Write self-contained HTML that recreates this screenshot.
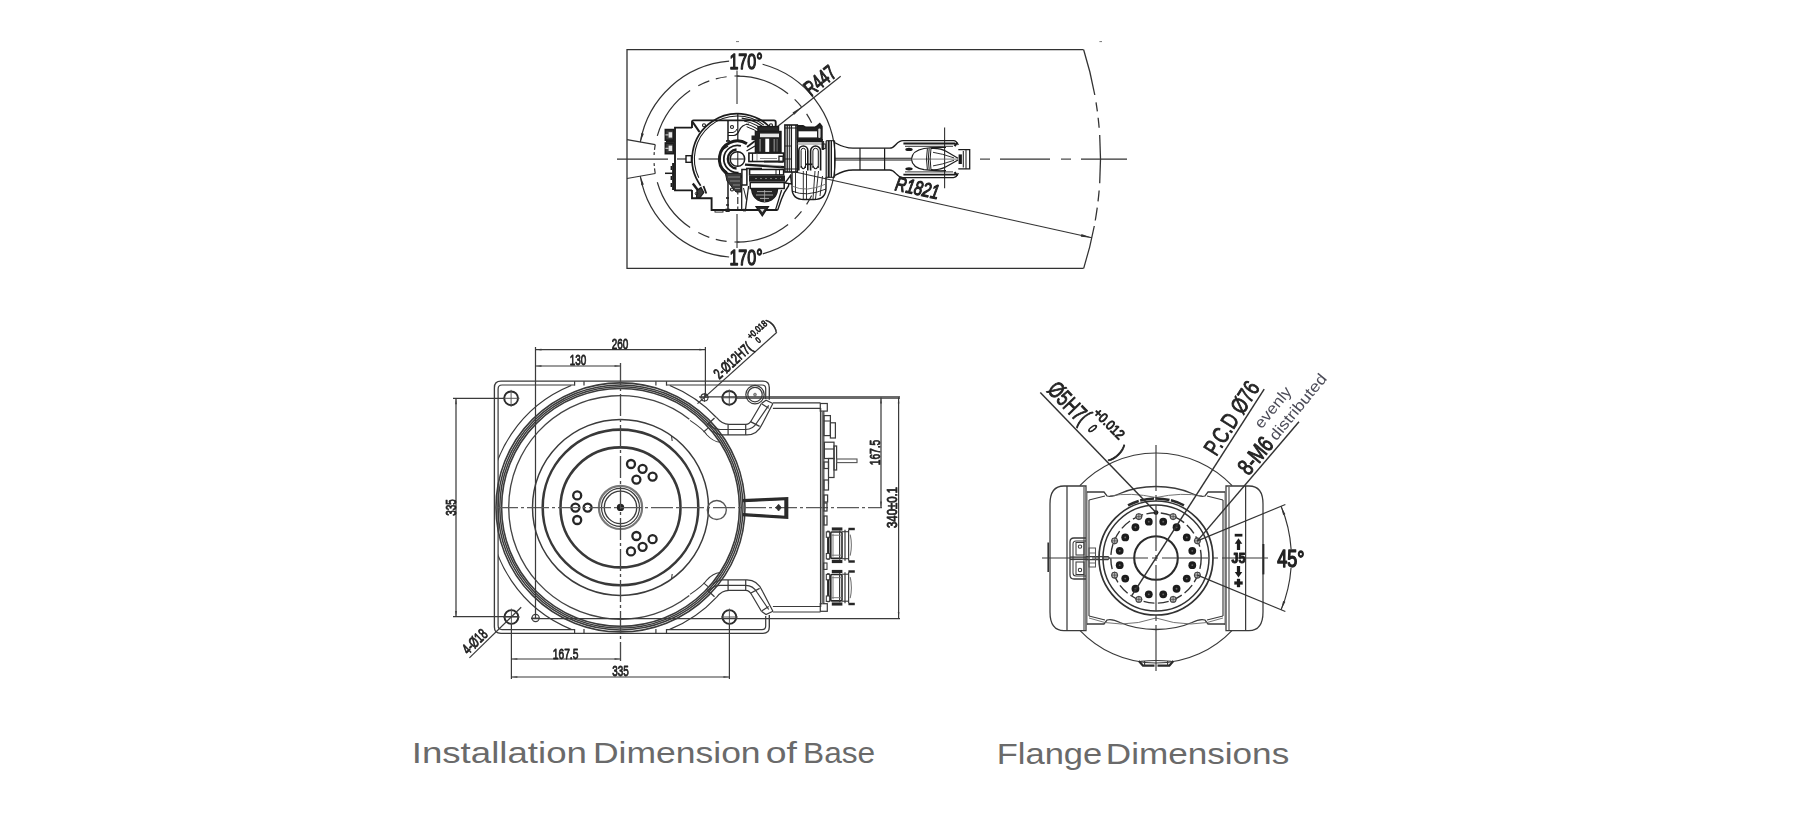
<!DOCTYPE html>
<html><head><meta charset="utf-8"><title>Dimensions</title>
<style>
html,body{margin:0;padding:0;background:#fff;}
body{width:1820px;height:826px;overflow:hidden;font-family:"Liberation Sans",sans-serif;}
svg{display:block;}
</style></head><body>
<svg width="1820" height="826" viewBox="0 0 1820 826">
<defs><filter id="soft" x="0" y="0" width="1820" height="826" filterUnits="userSpaceOnUse"><feGaussianBlur stdDeviation="0.6"/></filter></defs>
<rect width="1820" height="826" fill="#fff"/>
<g filter="url(#soft)">
<path d="M1083.6,49.7 H627 V268.4 H1083.6" fill="none" stroke="#333" stroke-width="1.3" stroke-linejoin="miter"/>
<path d="M1083.65,49.7 A363.5,363.5 0 0 1 1094.8,95" fill="none" stroke="#333" stroke-width="1.3"/>
<path d="M1096.03,102.3 A363.5,363.5 0 0 1 1097.36,111.4" fill="none" stroke="#333" stroke-width="1.3"/>
<path d="M1098.13,117.7 A363.5,363.5 0 0 1 1099.14,127.7" fill="none" stroke="#333" stroke-width="1.3"/>
<path d="M1099.7,135 A363.5,363.5 0 0 1 1099.7,183.2" fill="none" stroke="#333" stroke-width="1.3"/>
<path d="M1099.14,190.5 A363.5,363.5 0 0 1 1098.03,201.4" fill="none" stroke="#333" stroke-width="1.3"/>
<path d="M1097.24,207.7 A363.5,363.5 0 0 1 1095.28,220.5" fill="none" stroke="#333" stroke-width="1.3"/>
<path d="M1094.29,226 A363.5,363.5 0 0 1 1083.68,268.4" fill="none" stroke="#333" stroke-width="1.3"/>
<line x1="736" y1="41.6" x2="739" y2="41.6" stroke="#777" stroke-width="1"/>
<line x1="1099.4" y1="41.6" x2="1102" y2="41.6" stroke="#777" stroke-width="1"/>
<line x1="617" y1="159.1" x2="668" y2="159.1" stroke="#333" stroke-width="1.1"/>
<line x1="980" y1="159.1" x2="990" y2="159.1" stroke="#333" stroke-width="1.1"/>
<line x1="1000" y1="159.1" x2="1050" y2="159.1" stroke="#333" stroke-width="1.1"/>
<line x1="1061" y1="159.1" x2="1071" y2="159.1" stroke="#333" stroke-width="1.1"/>
<line x1="1081" y1="159.1" x2="1127" y2="159.1" stroke="#333" stroke-width="1.1"/>
<line x1="737" y1="70.6" x2="737" y2="104" stroke="#333" stroke-width="1.1"/>
<line x1="737" y1="214" x2="737" y2="248" stroke="#333" stroke-width="1.1"/>
<line x1="627" y1="139.7" x2="655.26" y2="144.69" stroke="#333" stroke-width="1.2"/>
<line x1="627" y1="178.5" x2="655.26" y2="173.51" stroke="#333" stroke-width="1.2"/>
<path d="M788.1,93.7 A83,83 0 0 0 737,76.1" fill="none" stroke="#333" stroke-width="1.2"/>
<path d="M801.5,106.87 A83,83 0 0 0 794.66,99.39" fill="none" stroke="#333" stroke-width="1.2"/>
<path d="M811.6,122.72 A83,83 0 0 0 806.61,113.89" fill="none" stroke="#333" stroke-width="1.2"/>
<path d="M726.6,76.75 A83,83 0 0 0 715.8,78.85" fill="none" stroke="#333" stroke-width="1.2"/>
<path d="M709.29,80.86 A83,83 0 0 0 698.29,85.68" fill="none" stroke="#333" stroke-width="1.2"/>
<path d="M690.11,90.62 A83,83 0 0 0 657.3,135.94" fill="none" stroke="#333" stroke-width="1.2"/>
<path d="M655.26,144.69 A83,83 0 0 0 654.52,149.85" fill="none" stroke="#333" stroke-width="1.2"/>
<path d="M654.29,152.15 A83,83 0 0 0 654.1,155.05" fill="none" stroke="#333" stroke-width="1.2"/>
<path d="M654.1,163.15 A83,83 0 0 0 654.29,166.05" fill="none" stroke="#333" stroke-width="1.2"/>
<path d="M654.52,168.35 A83,83 0 0 0 655.26,173.51" fill="none" stroke="#333" stroke-width="1.2"/>
<path d="M657.3,182.26 A83,83 0 0 0 690.11,227.58" fill="none" stroke="#333" stroke-width="1.2"/>
<path d="M698.29,232.52 A83,83 0 0 0 709.29,237.34" fill="none" stroke="#333" stroke-width="1.2"/>
<path d="M715.8,239.35 A83,83 0 0 0 726.6,241.45" fill="none" stroke="#333" stroke-width="1.2"/>
<path d="M737,242.1 A83,83 0 0 0 788.1,224.5" fill="none" stroke="#333" stroke-width="1.2"/>
<path d="M794.66,218.81 A83,83 0 0 0 801.5,211.33" fill="none" stroke="#333" stroke-width="1.2"/>
<path d="M806.61,204.31 A83,83 0 0 0 811.6,195.48" fill="none" stroke="#333" stroke-width="1.2"/>
<line x1="734.5" y1="76" x2="739.5" y2="76" stroke="#333" stroke-width="1.1"/>
<line x1="734.5" y1="242" x2="739.5" y2="242" stroke="#333" stroke-width="1.1"/>
<path d="M762.75,253.86 A98.2,98.2 0 0 0 762.58,64.29" fill="none" stroke="#333" stroke-width="1.2"/>
<path d="M729.12,61.22 A98.2,98.2 0 0 0 640.29,142.05" fill="none" stroke="#333" stroke-width="1.2"/>
<path d="M640.29,176.15 A98.2,98.2 0 0 0 729.12,256.98" fill="none" stroke="#333" stroke-width="1.2"/>
<polygon points="640.29,142.05 641.37,133.02 643.88,133.69" fill="#333"/>
<polygon points="640.29,176.15 643.88,184.51 641.37,185.18" fill="#333"/>
<line x1="772.8" y1="130.21" x2="840.7" y2="76.2" stroke="#333" stroke-width="1.2"/>
<polygon points="801.98,106.67 794.3,114.66 792.54,112.48" fill="#333"/>
<line x1="790.7" y1="171" x2="1091.88" y2="237.78" stroke="#333" stroke-width="1.2"/>
<polygon points="1091.88,237.78 1080.84,236.76 1081.45,234.03" fill="#333"/>
<line x1="944.6" y1="127.5" x2="944.6" y2="188.3" stroke="#333" stroke-width="1.1"/>
<path d="M692,127.6 H675 V190.4 H692" fill="none" stroke="#1c1c1c" stroke-width="1.9"/>
<rect x="665.4" y="129.6" width="8.3" height="10.6" rx="0" fill="#3a3a3a" stroke="#1c1c1c" stroke-width="1.7"/>
<rect x="668.6" y="132.2" width="3.6" height="5.4" rx="0" fill="#e8e8e8" stroke="none" stroke-width="0"/>
<line x1="665.4" y1="134.9" x2="668.6" y2="134.9" stroke="#ddd" stroke-width="1"/>
<rect x="665.4" y="143" width="8.3" height="10.6" rx="0" fill="#3a3a3a" stroke="#1c1c1c" stroke-width="1.7"/>
<rect x="668.6" y="145.6" width="3.6" height="5.4" rx="0" fill="#e8e8e8" stroke="none" stroke-width="0"/>
<line x1="665.4" y1="148.3" x2="668.6" y2="148.3" stroke="#ddd" stroke-width="1"/>
<line x1="666" y1="141.8" x2="675" y2="141.8" stroke="#1c1c1c" stroke-width="1.8"/>
<line x1="673.2" y1="163" x2="673.2" y2="190" stroke="#1c1c1c" stroke-width="2.2"/>
<line x1="665" y1="173.3" x2="673" y2="173.3" stroke="#1c1c1c" stroke-width="1.5"/>
<path d="M671.3,166 V170 M671.3,176 V180 M671.3,183 V187" fill="none" stroke="#1c1c1c" stroke-width="1.4"/>
<rect x="686" y="155.7" width="5.4" height="6.6" rx="0" fill="none" stroke="#1c1c1c" stroke-width="1.4"/>
<line x1="677" y1="159" x2="686" y2="159" stroke="#1c1c1c" stroke-width="1.1"/>
<line x1="698.6" y1="159" x2="718.8" y2="159" stroke="#1c1c1c" stroke-width="1.1"/>
<path d="M692,128 V122 Q692,120.4 693.6,120.4 H774 Q775.7,120.4 775.7,122 V129" fill="none" stroke="#1c1c1c" stroke-width="1.9"/>
<path d="M692,190 V198.2 H711.6 V210 H777.7" fill="none" stroke="#1c1c1c" stroke-width="1.9"/>
<path d="M692.6,122 L699.5,132" fill="none" stroke="#1c1c1c" stroke-width="2.2"/>
<path d="M692.8,183.5 L699.3,192" fill="none" stroke="#1c1c1c" stroke-width="2.4"/>
<path d="M697,190.5 L701,187.5 L703.8,192.5 L700,197.6 H696.5 Z" fill="#3a3a3a" stroke="#1c1c1c" stroke-width="1.2"/>
<path d="M703.5,186 L706.3,193.5" fill="none" stroke="#1c1c1c" stroke-width="1.8"/>
<circle cx="704" cy="125.3" r="1.5" fill="none" stroke="#1c1c1c" stroke-width="1.1"/>
<circle cx="771" cy="125.3" r="1.5" fill="none" stroke="#1c1c1c" stroke-width="1.1"/>
<circle cx="696.5" cy="193.6" r="1.3" fill="none" stroke="#1c1c1c" stroke-width="1"/>
<path d="M775.48,134.27 A45.4,45.4 0 1 0 700.67,185.69" fill="none" stroke="#1c1c1c" stroke-width="1.7"/>
<path d="M763.87,125.12 A43,43 0 0 0 698.75,177.85" fill="none" stroke="#1c1c1c" stroke-width="1.1"/>
<path d="M768.81,132.65 A41,41 0 0 0 741.69,118.22" fill="none" stroke="#1c1c1c" stroke-width="1.3"/>
<path d="M766.01,133.24 A38.5,38.5 0 0 0 744.09,121.08" fill="none" stroke="#1c1c1c" stroke-width="1.1"/>
<path d="M763.73,134.45 A36,36 0 0 0 746.11,124.07" fill="none" stroke="#1c1c1c" stroke-width="1.1"/>
<path d="M760.74,134.83 A33.6,33.6 0 0 0 746.66,126.7" fill="none" stroke="#1c1c1c" stroke-width="1"/>
<line x1="728" y1="120.4" x2="728" y2="141" stroke="#1c1c1c" stroke-width="1.5"/>
<line x1="737.8" y1="113.5" x2="737.8" y2="141" stroke="#1c1c1c" stroke-width="1.2"/>
<line x1="728" y1="173.4" x2="728" y2="210" stroke="#1c1c1c" stroke-width="1.5"/>
<line x1="737.8" y1="178" x2="737.8" y2="210" stroke="#1c1c1c" stroke-width="1.1" stroke-dasharray="7 2.5"/>
<circle cx="732" cy="127" r="1.5" fill="none" stroke="#1c1c1c" stroke-width="1.1"/>
<circle cx="732" cy="189.5" r="1.5" fill="none" stroke="#1c1c1c" stroke-width="1.1"/>
<path d="M728,135.5 H733.5 Q737.5,135 739,131 Q741.5,124.5 749,124" fill="none" stroke="#1c1c1c" stroke-width="1.2"/>
<path d="M728,132.5 H733 Q736,132 737,129" fill="none" stroke="#1c1c1c" stroke-width="1"/>
<line x1="726" y1="141" x2="730" y2="141" stroke="#1c1c1c" stroke-width="1.6"/>
<line x1="726" y1="198" x2="729" y2="198" stroke="#1c1c1c" stroke-width="1.6"/>
<line x1="726" y1="205" x2="729" y2="205" stroke="#1c1c1c" stroke-width="1.4"/>
<path d="M746.94,143.74 A18,18 0 1 0 742.36,176.3" fill="none" stroke="#1c1c1c" stroke-width="3"/>
<path d="M740.92,145.86 A13.6,13.6 0 1 0 738.59,172.55" fill="none" stroke="#1c1c1c" stroke-width="1.8"/>
<path d="M736.56,149.44 A9.6,9.6 0 0 0 736.56,168.56" fill="none" stroke="#1c1c1c" stroke-width="2.4"/>
<circle cx="737.4" cy="159" r="7.3" fill="none" stroke="#1c1c1c" stroke-width="1.5"/>
<line x1="730" y1="159" x2="745" y2="159" stroke="#1c1c1c" stroke-width="1"/>
<line x1="737.8" y1="151.5" x2="737.8" y2="166.5" stroke="#1c1c1c" stroke-width="1"/>
<path d="M722,150 L728,146 M721.5,168 L727,172" fill="none" stroke="#1c1c1c" stroke-width="1.4"/>
<path d="M725.4,173.4 L741,173.4 L741,192 L736,192 L727,181 Z" fill="#3c3c3c" stroke="#1c1c1c" stroke-width="1"/>
<path d="M728,177 H740 M730,181 H740 M733,185 H740 M735,188.5 H740" fill="none" stroke="#aaa" stroke-width="0.7"/>
<rect x="755.4" y="131.5" width="25.6" height="21.5" rx="0" fill="#242424" stroke="#1c1c1c" stroke-width="1.4"/>
<rect x="758" y="126.6" width="20.5" height="4.6" rx="0" fill="#2a2a2a" stroke="#1c1c1c" stroke-width="1.4"/>
<rect x="760" y="133.6" width="19" height="3.6" rx="0" fill="#e8e8e8" stroke="none" stroke-width="0"/>
<rect x="765.3" y="138.7" width="3.9" height="13.2" rx="0" fill="#fff" stroke="none" stroke-width="0"/>
<rect x="759.3" y="139" width="1.6" height="12.5" rx="0" fill="#777" stroke="none" stroke-width="0"/>
<rect x="773.5" y="139" width="1.6" height="12.5" rx="0" fill="#777" stroke="none" stroke-width="0"/>
<rect x="776.5" y="139" width="1.2" height="12.5" rx="0" fill="#666" stroke="none" stroke-width="0"/>
<rect x="751.5" y="135.5" width="4" height="4.6" rx="0" fill="#242424" stroke="none" stroke-width="0"/>
<path d="M747,147 L755,141" fill="none" stroke="#1c1c1c" stroke-width="1.6"/>
<path d="M746.5,151 L755,146" fill="none" stroke="#1c1c1c" stroke-width="1.2"/>
<rect x="748.9" y="153.1" width="34.7" height="8.4" rx="0" fill="#fff" stroke="#1c1c1c" stroke-width="1.6"/>
<line x1="752.5" y1="153.1" x2="752.5" y2="161.5" stroke="#1c1c1c" stroke-width="1.2"/>
<line x1="757" y1="153.5" x2="757" y2="161" stroke="#888" stroke-width="0.9"/>
<line x1="760" y1="158.5" x2="777" y2="158.5" stroke="#888" stroke-width="1"/>
<line x1="764" y1="161.6" x2="783" y2="161.6" stroke="#1c1c1c" stroke-width="1.8"/>
<rect x="778.3" y="155.5" width="5.3" height="7" rx="0" fill="#242424" stroke="none" stroke-width="0"/>
<rect x="779.6" y="157" width="2.8" height="3.6" rx="0" fill="#fff" stroke="none" stroke-width="0"/>
<path d="M745,164.6 L784.3,167.2" fill="none" stroke="#1c1c1c" stroke-width="2.4"/>
<path d="M746,168.5 H762" fill="none" stroke="#1c1c1c" stroke-width="1.6"/>
<line x1="763" y1="164.5" x2="781" y2="165.8" stroke="#bbb" stroke-width="0.8"/>
<rect x="741.9" y="169.5" width="5" height="15.5" rx="0" fill="#fff" stroke="#1c1c1c" stroke-width="1.5"/>
<rect x="749.6" y="169.5" width="34" height="5.4" rx="0" fill="#fff" stroke="#1c1c1c" stroke-width="1.5"/>
<line x1="776" y1="169.5" x2="776" y2="174.9" stroke="#1c1c1c" stroke-width="1"/>
<line x1="779.5" y1="169.5" x2="779.5" y2="174.9" stroke="#1c1c1c" stroke-width="1"/>
<rect x="749" y="175.5" width="36" height="6.2" rx="0" fill="#202020" stroke="none" stroke-width="0"/>
<path d="M755,178.6 H781" fill="none" stroke="#999" stroke-width="0.8" stroke-dasharray="2 3"/>
<rect x="750.2" y="182.5" width="34" height="6" rx="0" fill="#fff" stroke="#1c1c1c" stroke-width="1.5"/>
<path d="M751.5,189 H777.7 Q777,196.5 771.5,200 Q764.6,203.6 757.7,200 Q752.2,196.5 751.5,189 Z" fill="#262626" stroke="#1c1c1c" stroke-width="1.2"/>
<path d="M757,191.6 H772 M756,195 H773 M760,198.4 H769" fill="none" stroke="#c8c8c8" stroke-width="0.8"/>
<line x1="764.6" y1="190" x2="764.6" y2="202" stroke="#bbb" stroke-width="0.7"/>
<line x1="741.7" y1="185" x2="741.7" y2="209.6" stroke="#1c1c1c" stroke-width="1.3"/>
<line x1="748.6" y1="186" x2="745.5" y2="209.6" stroke="#1c1c1c" stroke-width="1.3"/>
<line x1="743.5" y1="188" x2="746.5" y2="200" stroke="#1c1c1c" stroke-width="1"/>
<line x1="781.6" y1="190" x2="775.6" y2="209.6" stroke="#1c1c1c" stroke-width="1.3"/>
<path d="M790.7,174.7 L788.5,186 Q784,192 781.5,199 L777.7,210" fill="none" stroke="#1c1c1c" stroke-width="1.4"/>
<path d="M785,183 L790.5,175.5 L791.5,184 Z" fill="#fff" stroke="#1c1c1c" stroke-width="1.3"/>
<path d="M756,206.7 H768.5 L762.3,216 Z" fill="#2a2a2a" stroke="#1c1c1c" stroke-width="1.2"/>
<path d="M760,209 H764.5 L762.3,212.3 Z" fill="#ddd" stroke="none" stroke-width="0"/>
<rect x="715" y="210.3" width="8" height="1.8" rx="0" fill="none" stroke="#1c1c1c" stroke-width="0.9"/>
<rect x="725.5" y="208.6" width="4.2" height="3.4" rx="0" fill="#222" stroke="none" stroke-width="0"/>
<rect x="743" y="208.8" width="3" height="2.6" rx="0" fill="#222" stroke="none" stroke-width="0"/>
<rect x="784.9" y="125" width="12.4" height="47" rx="0" fill="#fff" stroke="#1c1c1c" stroke-width="1.6"/>
<line x1="787.2" y1="125" x2="787.2" y2="172" stroke="#1c1c1c" stroke-width="1.3"/>
<line x1="789.3" y1="125" x2="789.3" y2="172" stroke="#1c1c1c" stroke-width="1"/>
<line x1="791.4" y1="125" x2="791.4" y2="172" stroke="#1c1c1c" stroke-width="1.3"/>
<line x1="795.8" y1="125" x2="795.8" y2="172" stroke="#1c1c1c" stroke-width="1.2"/>
<line x1="784.9" y1="128" x2="797.3" y2="128" stroke="#1c1c1c" stroke-width="1"/>
<line x1="784.9" y1="169" x2="797.3" y2="169" stroke="#1c1c1c" stroke-width="1"/>
<line x1="784.9" y1="146" x2="791.4" y2="146" stroke="#1c1c1c" stroke-width="0.9"/>
<line x1="784.9" y1="159" x2="791.4" y2="159" stroke="#1c1c1c" stroke-width="0.9"/>
<path d="M797.3,125.8 H803 L806,127.3 H815 L817.5,125.6 L819.8,123.6 L822,126.5 V139.4 H797.3 Z" fill="#222" stroke="#1c1c1c" stroke-width="1.4"/>
<rect x="798.6" y="131.3" width="18.4" height="6.1" rx="0" fill="#fff" stroke="none" stroke-width="0"/>
<rect x="818.3" y="128.6" width="2.2" height="9.4" rx="1" fill="#ddd" stroke="none" stroke-width="0"/>
<rect x="797.3" y="139.4" width="24.8" height="2.9" rx="0" fill="#1e1e1e" stroke="none" stroke-width="0"/>
<line x1="797.3" y1="144" x2="822" y2="144" stroke="#777" stroke-width="0.9"/>
<line x1="822.3" y1="139" x2="822.3" y2="150" stroke="#1c1c1c" stroke-width="1.3"/>
<rect x="822.3" y="144" width="3" height="4.6" rx="0" fill="none" stroke="#1c1c1c" stroke-width="1"/>
<path d="M798.8,170.6 V150.5 A4.5,4.5 0 0 1 807.8,150.5 V170.6" fill="none" stroke="#1c1c1c" stroke-width="1.6"/>
<path d="M801.1,168 V150.5 A2.2,2.2 0 0 1 805.5,150.5 V168" fill="none" stroke="#1c1c1c" stroke-width="1"/>
<path d="M801.1,166 Q803.3,171.5 805.5,166" fill="none" stroke="#1c1c1c" stroke-width="1.2"/>
<path d="M810.6,170.6 V151 A5,5 0 0 1 820.6,151 V170.6" fill="none" stroke="#1c1c1c" stroke-width="1.6"/>
<path d="M812.9,168 V151 A2.7,2.7 0 0 1 818.3,151 V168" fill="none" stroke="#1c1c1c" stroke-width="1"/>
<path d="M812.9,166 Q815.6,171.5 818.3,166" fill="none" stroke="#1c1c1c" stroke-width="1.2"/>
<line x1="805" y1="164.3" x2="812.4" y2="164.3" stroke="#1c1c1c" stroke-width="1.7"/>
<path d="M792,172 V188 Q792,199.5 804,199.5 H814 Q826,199.5 826,188 V177" fill="none" stroke="#1c1c1c" stroke-width="1.4"/>
<path d="M795.5,173 V193 M803.3,171 V199 M806.5,171 V199 M815,171 L813,199 M818.5,171 L815.5,199 M822.5,176 L820,196" fill="none" stroke="#1c1c1c" stroke-width="0.9"/>
<path d="M792,191 Q806,197.5 826,189" fill="none" stroke="#1c1c1c" stroke-width="0.9"/>
<path d="M792,186 Q806,193 826,184" fill="none" stroke="#666" stroke-width="0.8"/>
<line x1="823.6" y1="141" x2="823.6" y2="150" stroke="#1c1c1c" stroke-width="1"/>
<line x1="826.2" y1="140.7" x2="826.2" y2="177.3" stroke="#1c1c1c" stroke-width="1.2"/>
<line x1="828.7" y1="140.7" x2="828.7" y2="177.3" stroke="#1c1c1c" stroke-width="2"/>
<line x1="831.3" y1="140.7" x2="831.3" y2="177.3" stroke="#1c1c1c" stroke-width="1.4"/>
<line x1="834.6" y1="140.7" x2="834.6" y2="177.3" stroke="#1c1c1c" stroke-width="1.1"/>
<line x1="826.2" y1="140.7" x2="834.6" y2="140.7" stroke="#1c1c1c" stroke-width="1.1"/>
<line x1="826.2" y1="177.3" x2="834.6" y2="177.3" stroke="#1c1c1c" stroke-width="1.1"/>
<path d="M834.9,142.8 C840,145.6 846,148.2 853,148.2 H889.7 C896,148.2 896,140.6 903,140.6 H953.5 Q956.5,140.6 958.3,145.1" fill="none" stroke="#1c1c1c" stroke-width="1.3"/>
<line x1="903.4" y1="143.5" x2="955" y2="143.5" stroke="#1c1c1c" stroke-width="1.8"/>
<line x1="905" y1="146.3" x2="953" y2="146.3" stroke="#1c1c1c" stroke-width="0.9"/>
<ellipse cx="909" cy="149.4" rx="3.7" ry="1.6" fill="#1c1c1c"/>
<path d="M911.4,159.1 Q912.3,150.6 924,148.5 Q934,147.1 946,147.5" fill="none" stroke="#1c1c1c" stroke-width="1.2"/>
<path d="M931,148.5 Q940,147.8 946.5,151.6 L958,158.3" fill="none" stroke="#1c1c1c" stroke-width="1.2"/>
<path d="M933,152.3 Q942,153.6 954,157.9" fill="none" stroke="#1c1c1c" stroke-width="0.9"/>
<path d="M957.2,142.3 L954.6,146.1" fill="none" stroke="#1c1c1c" stroke-width="2.2"/>
<path d="M834.9,175.4 C840,172.6 846,170 853,170 H889.7 C896,170 896,177.6 903,177.6 H953.5 Q956.5,177.6 958.3,173.1" fill="none" stroke="#1c1c1c" stroke-width="1.3"/>
<line x1="903.4" y1="174.7" x2="955" y2="174.7" stroke="#1c1c1c" stroke-width="1.8"/>
<line x1="905" y1="171.9" x2="953" y2="171.9" stroke="#1c1c1c" stroke-width="0.9"/>
<ellipse cx="909" cy="168.8" rx="3.7" ry="1.6" fill="#1c1c1c"/>
<path d="M911.4,159.1 Q912.3,167.6 924,169.7 Q934,171.1 946,170.7" fill="none" stroke="#1c1c1c" stroke-width="1.2"/>
<path d="M931,169.7 Q940,170.4 946.5,166.6 L958,159.9" fill="none" stroke="#1c1c1c" stroke-width="1.2"/>
<path d="M933,165.9 Q942,164.6 954,160.3" fill="none" stroke="#1c1c1c" stroke-width="0.9"/>
<path d="M957.2,175.9 L954.6,172.1" fill="none" stroke="#1c1c1c" stroke-width="2.2"/>
<line x1="835" y1="158.2" x2="911" y2="158.2" stroke="#1c1c1c" stroke-width="1.1"/>
<line x1="835" y1="160" x2="911" y2="160" stroke="#1c1c1c" stroke-width="1.1"/>
<line x1="911" y1="159.1" x2="958" y2="159.1" stroke="#555" stroke-width="0.8"/>
<line x1="860" y1="148.3" x2="860" y2="170" stroke="#1c1c1c" stroke-width="1.2"/>
<line x1="884.6" y1="148.3" x2="884.6" y2="170" stroke="#1c1c1c" stroke-width="1.2"/>
<path d="M927.4,148.5 Q925.6,159.1 927.4,169.7" fill="none" stroke="#1c1c1c" stroke-width="1"/>
<path d="M929.2,148.5 Q927.4,159.1 929.2,169.7" fill="none" stroke="#1c1c1c" stroke-width="1"/>
<path d="M931,148.5 Q929.2,159.1 931,169.7" fill="none" stroke="#1c1c1c" stroke-width="1"/>
<path d="M958.3,149.6 H969.7 V168.8 H958.3" fill="none" stroke="#1c1c1c" stroke-width="1.3"/>
<line x1="966" y1="149.6" x2="966" y2="168.8" stroke="#1c1c1c" stroke-width="1"/>
<line x1="963.3" y1="151" x2="963.3" y2="167.5" stroke="#1c1c1c" stroke-width="1"/>
<rect x="958.6" y="154.4" width="3.3" height="9.6" rx="0" fill="#1c1c1c" stroke="none" stroke-width="0"/>
<text transform="translate(746,69.3) rotate(0)" font-family="'Liberation Sans', sans-serif" font-size="22.86" font-weight="normal" text-anchor="middle" fill="#222" textLength="33.2" lengthAdjust="spacingAndGlyphs" stroke="#222" stroke-width="1.35" vector-effect="non-scaling-stroke" stroke-linejoin="round">170°</text>
<text transform="translate(746,265.3) rotate(0)" font-family="'Liberation Sans', sans-serif" font-size="22.86" font-weight="normal" text-anchor="middle" fill="#222" textLength="33.2" lengthAdjust="spacingAndGlyphs" stroke="#222" stroke-width="1.35" vector-effect="non-scaling-stroke" stroke-linejoin="round">170°</text>
<text transform="translate(837.6,75.5) rotate(-38.5)" font-family="'Liberation Sans', sans-serif" font-size="21.14" font-weight="normal" text-anchor="end" fill="#222" textLength="34" lengthAdjust="spacingAndGlyphs" stroke="#222" stroke-width="1.15" vector-effect="non-scaling-stroke" stroke-linejoin="round">R447</text>
<text transform="translate(894.3,190) rotate(12)" font-family="'Liberation Sans', sans-serif" font-size="20" font-weight="normal" text-anchor="start" fill="#222" textLength="44.3" lengthAdjust="spacingAndGlyphs" font-style="italic" stroke="#222" stroke-width="1.15" vector-effect="non-scaling-stroke" stroke-linejoin="round">R1821</text>
<path d="M769.3,399.8 V387.5 Q769.3,381.2 763,381.2 H500.9 Q494.4,381.2 494.4,387.7 V627 Q494.4,633.4 500.9,633.4 H763 Q769.3,633.4 769.3,627 V615" fill="none" stroke="#3a3a3a" stroke-width="1.34"/>
<path d="M765.7,399 V388.5 Q765.7,385 762,385 H666.5 M574.6,385 H502 Q498.1,385 498.1,389 V625.6 Q498.1,629.6 502,629.6 H574.6 M666.5,629.6 H762 Q765.7,629.6 765.7,626 V616" fill="none" stroke="#3a3a3a" stroke-width="1.22"/>
<line x1="574.6" y1="381.2" x2="574.6" y2="385.6" stroke="#3a3a3a" stroke-width="1.22"/>
<line x1="574.6" y1="629" x2="574.6" y2="633.4" stroke="#3a3a3a" stroke-width="1.22"/>
<line x1="584" y1="381.2" x2="584" y2="385.6" stroke="#3a3a3a" stroke-width="1.22"/>
<line x1="584" y1="629" x2="584" y2="633.4" stroke="#3a3a3a" stroke-width="1.22"/>
<line x1="655.9" y1="381.2" x2="655.9" y2="385.6" stroke="#3a3a3a" stroke-width="1.22"/>
<line x1="655.9" y1="629" x2="655.9" y2="633.4" stroke="#3a3a3a" stroke-width="1.22"/>
<line x1="666.5" y1="381.2" x2="666.5" y2="385.6" stroke="#3a3a3a" stroke-width="1.22"/>
<line x1="666.5" y1="629" x2="666.5" y2="633.4" stroke="#3a3a3a" stroke-width="1.22"/>
<clipPath id="plateclip"><rect x="498.1" y="385" width="267" height="244.6"/></clipPath>
<g clip-path="url(#plateclip)">
<path d="M571.24,385.48 A131.5,131.5 0 0 0 571.24,629.32" fill="none" stroke="#3a3a3a" stroke-width="1.22"/>
<path d="M716.67,417.72 A131.5,131.5 0 0 0 669.76,385.48" fill="none" stroke="#3a3a3a" stroke-width="1.22"/>
<path d="M669.76,629.32 A131.5,131.5 0 0 0 716.67,597.08" fill="none" stroke="#3a3a3a" stroke-width="1.22"/>
</g>
<circle cx="620.5" cy="507.4" r="124.5" fill="none" stroke="#3a3a3a" stroke-width="1.59"/>
<circle cx="620.5" cy="507.4" r="122.5" fill="none" stroke="#3a3a3a" stroke-width="1.46"/>
<circle cx="620.5" cy="507.4" r="120.7" fill="none" stroke="#3a3a3a" stroke-width="1.46"/>
<circle cx="620.5" cy="507.4" r="118.9" fill="none" stroke="#3a3a3a" stroke-width="1.59"/>
<path d="M689.33,419.3 A111.8,111.8 0 1 0 689.33,595.5" fill="none" stroke="#444" stroke-width="1.34"/>
<circle cx="620.5" cy="507.4" r="88" fill="none" stroke="#3a3a3a" stroke-width="1.46"/>
<circle cx="620.5" cy="507.4" r="77.8" fill="none" stroke="#383838" stroke-width="2.56"/>
<circle cx="620.5" cy="507.4" r="60" fill="none" stroke="#383838" stroke-width="2.56"/>
<circle cx="620.5" cy="507.4" r="21.6" fill="none" stroke="#777" stroke-width="2.2"/>
<circle cx="620.5" cy="507.4" r="19" fill="none" stroke="#3a3a3a" stroke-width="1.22"/>
<circle cx="620.5" cy="507.4" r="16.2" fill="none" stroke="#3a3a3a" stroke-width="1.34"/>
<circle cx="620.5" cy="507.4" r="3.7" fill="#222" stroke="none" stroke-width="0"/>
<circle cx="716.8" cy="510" r="9.5" fill="none" stroke="#555" stroke-width="1.34"/>
<circle cx="631" cy="464" r="4" fill="none" stroke="#262626" stroke-width="2.32"/>
<circle cx="642.6" cy="468.8" r="4" fill="none" stroke="#262626" stroke-width="2.32"/>
<circle cx="652.6" cy="476.6" r="4" fill="none" stroke="#262626" stroke-width="2.32"/>
<circle cx="636.4" cy="479.6" r="4" fill="none" stroke="#262626" stroke-width="2.32"/>
<circle cx="577.2" cy="495.4" r="4" fill="none" stroke="#262626" stroke-width="2.32"/>
<circle cx="575.4" cy="507.6" r="4" fill="none" stroke="#262626" stroke-width="2.32"/>
<circle cx="587.6" cy="507.6" r="4" fill="none" stroke="#262626" stroke-width="2.32"/>
<circle cx="577.2" cy="520" r="4" fill="none" stroke="#262626" stroke-width="2.32"/>
<circle cx="636.4" cy="536" r="4" fill="none" stroke="#262626" stroke-width="2.32"/>
<circle cx="652.6" cy="539.2" r="4" fill="none" stroke="#262626" stroke-width="2.32"/>
<circle cx="642.6" cy="546.8" r="4" fill="none" stroke="#262626" stroke-width="2.32"/>
<circle cx="631" cy="551.4" r="4" fill="none" stroke="#262626" stroke-width="2.32"/>
<line x1="671.5" y1="436" x2="672.2" y2="441" stroke="#3a3a3a" stroke-width="1.1"/>
<line x1="671.5" y1="579" x2="672.2" y2="574" stroke="#3a3a3a" stroke-width="1.1"/>
<line x1="620.5" y1="363" x2="620.5" y2="661" stroke="#4a4a4a" stroke-width="1.34" stroke-dasharray="22 3 3 3"/>
<line x1="496" y1="507.6" x2="882" y2="507.6" stroke="#5a5a5a" stroke-width="1.34" stroke-dasharray="22 3 3 3"/>
<circle cx="511.1" cy="398.3" r="6.9" fill="none" stroke="#2a2a2a" stroke-width="1.95"/>
<line x1="502.7" y1="398.3" x2="519.5" y2="398.3" stroke="#555" stroke-width="0.98"/>
<line x1="511.1" y1="389.9" x2="511.1" y2="406.7" stroke="#555" stroke-width="0.98"/>
<circle cx="729.3" cy="397.8" r="6.9" fill="none" stroke="#2a2a2a" stroke-width="1.95"/>
<line x1="720.9" y1="397.8" x2="737.7" y2="397.8" stroke="#555" stroke-width="0.98"/>
<line x1="729.3" y1="389.4" x2="729.3" y2="406.2" stroke="#555" stroke-width="0.98"/>
<circle cx="511.4" cy="617" r="6.9" fill="none" stroke="#2a2a2a" stroke-width="1.95"/>
<line x1="503" y1="617" x2="519.8" y2="617" stroke="#555" stroke-width="0.98"/>
<line x1="511.4" y1="608.6" x2="511.4" y2="625.4" stroke="#555" stroke-width="0.98"/>
<circle cx="729.4" cy="617" r="6.9" fill="none" stroke="#2a2a2a" stroke-width="1.95"/>
<line x1="721" y1="617" x2="737.8" y2="617" stroke="#555" stroke-width="0.98"/>
<line x1="729.4" y1="608.6" x2="729.4" y2="625.4" stroke="#555" stroke-width="0.98"/>
<circle cx="704.5" cy="397.4" r="3.5" fill="none" stroke="#3a3a3a" stroke-width="1.1"/>
<line x1="700" y1="397.4" x2="709" y2="397.4" stroke="#3a3a3a" stroke-width="0.85"/>
<line x1="704.5" y1="393" x2="704.5" y2="402" stroke="#3a3a3a" stroke-width="0.85"/>
<circle cx="535.6" cy="618" r="3.6" fill="none" stroke="#3a3a3a" stroke-width="1.1"/>
<line x1="531" y1="618" x2="540" y2="618" stroke="#3a3a3a" stroke-width="0.85"/>
<circle cx="755" cy="394.6" r="9.2" fill="none" stroke="#3a3a3a" stroke-width="1.22"/>
<circle cx="755" cy="394.6" r="7.2" fill="none" stroke="#3a3a3a" stroke-width="1.22"/>
<circle cx="755" cy="394.6" r="1.4" fill="#999" stroke="#777" stroke-width="0.98"/>
<path d="M742.7,500.4 L787,498.4 V517.6 L742.7,515" fill="none" stroke="#2a2a2a" stroke-width="2.68" stroke-linejoin="miter"/>
<path d="M743,501.8 L785,499.8 M743,513.6 L785,516.2" fill="none" stroke="#2a2a2a" stroke-width="1.1"/>
<line x1="786" y1="498" x2="786" y2="518" stroke="#2a2a2a" stroke-width="3.42"/>
<path d="M778.6,504.2 L781.4,507.6 L778.6,511 L775.8,507.6 Z" fill="#333" stroke="#333" stroke-width="0.73"/>
<path d="M772.9,403.5 L762.5,423.5 Q757.5,434.9 747,434.9 H722 Q717,434.9 713,430.5" fill="none" stroke="#3a3a3a" stroke-width="1.22"/>
<path d="M768.7,405.3 L757,422.5 Q753,429.5 745.7,429.5 H720.5 Q714,429.5 709,424.5" fill="none" stroke="#3a3a3a" stroke-width="1.22"/>
<path d="M761.4,403.5 L752,419.5 Q749.5,424.4 745.7,424.4 H729 Q722,424.4 716.7,417.7" fill="none" stroke="#3a3a3a" stroke-width="1.22"/>
<line x1="728.1" y1="424.4" x2="728.1" y2="434.9" stroke="#3a3a3a" stroke-width="1.22"/>
<line x1="745.7" y1="424.4" x2="745.7" y2="434.9" stroke="#3a3a3a" stroke-width="1.22"/>
<line x1="750.5" y1="421.6" x2="759.6" y2="426.4" stroke="#3a3a3a" stroke-width="1.22"/>
<line x1="762" y1="404" x2="768.7" y2="408.3" stroke="#3a3a3a" stroke-width="1.22"/>
<line x1="714.5" y1="418" x2="707" y2="425" stroke="#3a3a3a" stroke-width="1.22"/>
<path d="M761.4,403.5 L766,400.2 L772.9,403.5" fill="none" stroke="#3a3a3a" stroke-width="1.22"/>
<path d="M690,420.4 Q703,429 707,435 Q713,441.5 720,442.3" fill="none" stroke="#3a3a3a" stroke-width="1.1"/>
<line x1="703.5" y1="432" x2="708" y2="428.2" stroke="#3a3a3a" stroke-width="1.1"/>
<path d="M772.9,611.3 L762.5,591.3 Q757.5,579.9 747,579.9 H722 Q717,579.9 713,584.3" fill="none" stroke="#3a3a3a" stroke-width="1.22"/>
<path d="M768.7,609.5 L757,592.3 Q753,585.3 745.7,585.3 H720.5 Q714,585.3 709,590.3" fill="none" stroke="#3a3a3a" stroke-width="1.22"/>
<path d="M761.4,611.3 L752,595.3 Q749.5,590.4 745.7,590.4 H729 Q722,590.4 716.7,597.1" fill="none" stroke="#3a3a3a" stroke-width="1.22"/>
<line x1="728.1" y1="590.4" x2="728.1" y2="579.9" stroke="#3a3a3a" stroke-width="1.22"/>
<line x1="745.7" y1="590.4" x2="745.7" y2="579.9" stroke="#3a3a3a" stroke-width="1.22"/>
<line x1="750.5" y1="593.2" x2="759.6" y2="588.4" stroke="#3a3a3a" stroke-width="1.22"/>
<line x1="762" y1="610.8" x2="768.7" y2="606.5" stroke="#3a3a3a" stroke-width="1.22"/>
<line x1="714.5" y1="596.8" x2="707" y2="589.8" stroke="#3a3a3a" stroke-width="1.22"/>
<path d="M761.4,611.3 L766,614.6 L772.9,611.3" fill="none" stroke="#3a3a3a" stroke-width="1.22"/>
<path d="M690,594.4 Q703,585.8 707,579.8 Q713,573.3 720,572.5" fill="none" stroke="#3a3a3a" stroke-width="1.1"/>
<line x1="703.5" y1="582.8" x2="708" y2="586.6" stroke="#3a3a3a" stroke-width="1.1"/>
<path d="M772.9,402.8 H820.5 M772.9,408.3 H820.5 M772.9,612 H820.5 M772.9,606.5 H820.5" fill="none" stroke="#3a3a3a" stroke-width="1.22"/>
<rect x="820.3" y="403.5" width="7" height="7.6" rx="0" fill="none" stroke="#3a3a3a" stroke-width="1.22"/>
<rect x="820.3" y="603.7" width="7" height="7.6" rx="0" fill="none" stroke="#3a3a3a" stroke-width="1.22"/>
<line x1="820.6" y1="408" x2="820.6" y2="607" stroke="#3a3a3a" stroke-width="1.34"/>
<line x1="822.3" y1="411" x2="822.3" y2="604" stroke="#666" stroke-width="1.22"/>
<line x1="823.8" y1="411" x2="823.8" y2="604" stroke="#3a3a3a" stroke-width="1.22"/>
<rect x="824" y="415.6" width="6.4" height="20" rx="0" fill="none" stroke="#3a3a3a" stroke-width="1.22"/>
<rect x="830.4" y="422.8" width="5" height="15.2" rx="0" fill="none" stroke="#3a3a3a" stroke-width="1.22"/>
<line x1="824" y1="421" x2="830.4" y2="421" stroke="#3a3a3a" stroke-width="1.1"/>
<rect x="824.4" y="442.2" width="9.6" height="16.3" rx="0" fill="none" stroke="#3a3a3a" stroke-width="1.22"/>
<rect x="834" y="446" width="2.6" height="24" rx="0" fill="none" stroke="#3a3a3a" stroke-width="1.22"/>
<line x1="824.4" y1="449" x2="834" y2="449" stroke="#3a3a3a" stroke-width="1.1"/>
<rect x="836.6" y="459" width="20.4" height="3.6" rx="0" fill="none" stroke="#555" stroke-width="1.1"/>
<rect x="824" y="462" width="4.5" height="6.5" rx="0" fill="none" stroke="#3a3a3a" stroke-width="1.22"/>
<rect x="828.5" y="458.5" width="5.5" height="19" rx="0" fill="none" stroke="#3a3a3a" stroke-width="1.22"/>
<rect x="824" y="480" width="4.5" height="10" rx="0" fill="none" stroke="#3a3a3a" stroke-width="1.22"/>
<rect x="824" y="495" width="3.6" height="7" rx="0" fill="none" stroke="#3a3a3a" stroke-width="1.22"/>
<rect x="824" y="503" width="3" height="8" rx="0" fill="none" stroke="#3a3a3a" stroke-width="1.22"/>
<rect x="824" y="516" width="3" height="9" rx="0" fill="none" stroke="#3a3a3a" stroke-width="1.22"/>
<line x1="828.5" y1="477.5" x2="828.5" y2="484" stroke="#3a3a3a" stroke-width="1.1"/>
<line x1="831.8" y1="529" x2="842.4" y2="529" stroke="#262626" stroke-width="3.17"/>
<line x1="848.4" y1="529" x2="854.8" y2="529" stroke="#262626" stroke-width="2.44"/>
<line x1="831.8" y1="561.5" x2="842.4" y2="561.5" stroke="#262626" stroke-width="3.17"/>
<line x1="848.4" y1="561.5" x2="854.8" y2="561.5" stroke="#262626" stroke-width="2.44"/>
<line x1="828.3" y1="530.7" x2="828.3" y2="559.7" stroke="#262626" stroke-width="2.44"/>
<rect x="830.8" y="532" width="11.2" height="26.4" rx="1" fill="none" stroke="#262626" stroke-width="1.59"/>
<line x1="839.6" y1="530.7" x2="839.6" y2="559.7" stroke="#3a3a3a" stroke-width="1.22"/>
<line x1="833" y1="533.7" x2="833" y2="556.7" stroke="#777" stroke-width="0.98"/>
<line x1="831" y1="535.2" x2="842" y2="535.2" stroke="#777" stroke-width="0.98"/>
<line x1="831" y1="555.2" x2="842" y2="555.2" stroke="#777" stroke-width="0.98"/>
<line x1="845" y1="529.7" x2="845" y2="560.7" stroke="#3a3a3a" stroke-width="1.22"/>
<line x1="848.6" y1="529.7" x2="848.6" y2="560.7" stroke="#3a3a3a" stroke-width="1.22"/>
<line x1="842" y1="531.7" x2="848.6" y2="531.7" stroke="#3a3a3a" stroke-width="1.1"/>
<line x1="842" y1="558.7" x2="848.6" y2="558.7" stroke="#3a3a3a" stroke-width="1.1"/>
<path d="M850.2,534.7 Q852.6,545.2 850.2,555.7" fill="none" stroke="#777" stroke-width="1.1"/>
<rect x="826.3" y="531.9" width="3.4" height="5.4" rx="0" fill="#fff" stroke="#3a3a3a" stroke-width="1.1"/>
<rect x="826.3" y="553.5" width="3.4" height="5.4" rx="0" fill="#fff" stroke="#3a3a3a" stroke-width="1.1"/>
<line x1="831.8" y1="571.5" x2="842.4" y2="571.5" stroke="#262626" stroke-width="3.17"/>
<line x1="848.4" y1="571.5" x2="854.8" y2="571.5" stroke="#262626" stroke-width="2.44"/>
<line x1="831.8" y1="604" x2="842.4" y2="604" stroke="#262626" stroke-width="3.17"/>
<line x1="848.4" y1="604" x2="854.8" y2="604" stroke="#262626" stroke-width="2.44"/>
<line x1="828.3" y1="573.2" x2="828.3" y2="602.2" stroke="#262626" stroke-width="2.44"/>
<rect x="830.8" y="574.5" width="11.2" height="26.4" rx="1" fill="none" stroke="#262626" stroke-width="1.59"/>
<line x1="839.6" y1="573.2" x2="839.6" y2="602.2" stroke="#3a3a3a" stroke-width="1.22"/>
<line x1="833" y1="576.2" x2="833" y2="599.2" stroke="#777" stroke-width="0.98"/>
<line x1="831" y1="577.7" x2="842" y2="577.7" stroke="#777" stroke-width="0.98"/>
<line x1="831" y1="597.7" x2="842" y2="597.7" stroke="#777" stroke-width="0.98"/>
<line x1="845" y1="572.2" x2="845" y2="603.2" stroke="#3a3a3a" stroke-width="1.22"/>
<line x1="848.6" y1="572.2" x2="848.6" y2="603.2" stroke="#3a3a3a" stroke-width="1.22"/>
<line x1="842" y1="574.2" x2="848.6" y2="574.2" stroke="#3a3a3a" stroke-width="1.1"/>
<line x1="842" y1="601.2" x2="848.6" y2="601.2" stroke="#3a3a3a" stroke-width="1.1"/>
<path d="M850.2,577.2 Q852.6,587.7 850.2,598.2" fill="none" stroke="#777" stroke-width="1.1"/>
<rect x="826.3" y="574.4" width="3.4" height="5.4" rx="0" fill="#fff" stroke="#3a3a3a" stroke-width="1.1"/>
<rect x="826.3" y="596" width="3.4" height="5.4" rx="0" fill="#fff" stroke="#3a3a3a" stroke-width="1.1"/>
<rect x="823.6" y="563" width="3.4" height="6.4" rx="0" fill="none" stroke="#3a3a3a" stroke-width="1.1"/>
<line x1="535.5" y1="347" x2="535.5" y2="618" stroke="#3a3a3a" stroke-width="1.22"/>
<line x1="705.4" y1="347" x2="705.4" y2="397" stroke="#3a3a3a" stroke-width="1.22"/>
<line x1="535.5" y1="349.6" x2="705.4" y2="349.6" stroke="#3a3a3a" stroke-width="1.22"/>
<line x1="535.5" y1="366" x2="620.5" y2="366" stroke="#3a3a3a" stroke-width="1.22"/>
<polygon points="535.5,349.6 541.5,348.8 541.5,350.4" fill="#3a3a3a"/>
<polygon points="705.4,349.6 699.4,350.4 699.4,348.8" fill="#3a3a3a"/>
<polygon points="535.5,366 541.5,365.2 541.5,366.8" fill="#3a3a3a"/>
<polygon points="620.5,366 614.5,366.8 614.5,365.2" fill="#3a3a3a"/>
<line x1="453" y1="398.3" x2="504" y2="398.3" stroke="#3a3a3a" stroke-width="1.22"/>
<line x1="453" y1="616.6" x2="518" y2="616.6" stroke="#3a3a3a" stroke-width="1.22"/>
<line x1="456" y1="398.3" x2="456" y2="617" stroke="#3a3a3a" stroke-width="1.22"/>
<polygon points="456,398.3 456.8,404.3 455.2,404.3" fill="#3a3a3a"/>
<polygon points="456,617 455.2,611 456.8,611" fill="#3a3a3a"/>
<line x1="511.4" y1="624" x2="511.4" y2="679" stroke="#3a3a3a" stroke-width="1.22"/>
<line x1="729.4" y1="624" x2="729.4" y2="679" stroke="#3a3a3a" stroke-width="1.22"/>
<line x1="511.4" y1="659" x2="620.5" y2="659" stroke="#3a3a3a" stroke-width="1.22"/>
<line x1="511.4" y1="677" x2="729.4" y2="677" stroke="#3a3a3a" stroke-width="1.22"/>
<polygon points="511.4,659 517.4,658.2 517.4,659.8" fill="#3a3a3a"/>
<polygon points="620.5,659 614.5,659.8 614.5,658.2" fill="#3a3a3a"/>
<polygon points="511.4,677 517.4,676.2 517.4,677.8" fill="#3a3a3a"/>
<polygon points="729.4,677 723.4,677.8 723.4,676.2" fill="#3a3a3a"/>
<line x1="699" y1="396.8" x2="900" y2="396.8" stroke="#3a3a3a" stroke-width="1.22"/>
<line x1="736" y1="398.1" x2="900" y2="398.1" stroke="#3a3a3a" stroke-width="1.22"/>
<line x1="531" y1="618.6" x2="900" y2="618.6" stroke="#3a3a3a" stroke-width="1.22"/>
<line x1="881" y1="397.4" x2="881" y2="507.6" stroke="#3a3a3a" stroke-width="1.22"/>
<line x1="898.6" y1="397.4" x2="898.6" y2="618" stroke="#3a3a3a" stroke-width="1.22"/>
<polygon points="881,397.4 881.8,403.4 880.2,403.4" fill="#3a3a3a"/>
<polygon points="881,507.6 880.2,501.6 881.8,501.6" fill="#3a3a3a"/>
<polygon points="898.6,397.4 899.4,403.4 897.8,403.4" fill="#3a3a3a"/>
<polygon points="898.6,618 897.8,612 899.4,612" fill="#3a3a3a"/>
<line x1="697.5" y1="403.6" x2="776.9" y2="332.3" stroke="#3a3a3a" stroke-width="1.22"/>
<line x1="469.4" y1="657.9" x2="521.2" y2="607.3" stroke="#3a3a3a" stroke-width="1.22"/>
<text transform="translate(620,349.2) rotate(0)" font-family="'Liberation Sans', sans-serif" font-size="15.43" font-weight="normal" text-anchor="middle" fill="#222" textLength="16.5" lengthAdjust="spacingAndGlyphs" stroke="#222" stroke-width="0.85" vector-effect="non-scaling-stroke" stroke-linejoin="round">260</text>
<text transform="translate(578,365.4) rotate(0)" font-family="'Liberation Sans', sans-serif" font-size="15.43" font-weight="normal" text-anchor="middle" fill="#222" textLength="16.5" lengthAdjust="spacingAndGlyphs" stroke="#222" stroke-width="0.85" vector-effect="non-scaling-stroke" stroke-linejoin="round">130</text>
<text transform="translate(455.6,507.6) rotate(-90)" font-family="'Liberation Sans', sans-serif" font-size="15.43" font-weight="normal" text-anchor="middle" fill="#222" textLength="16.5" lengthAdjust="spacingAndGlyphs" stroke="#222" stroke-width="0.85" vector-effect="non-scaling-stroke" stroke-linejoin="round">335</text>
<text transform="translate(565.6,658.6) rotate(0)" font-family="'Liberation Sans', sans-serif" font-size="15.43" font-weight="normal" text-anchor="middle" fill="#222" textLength="25.6" lengthAdjust="spacingAndGlyphs" stroke="#222" stroke-width="0.85" vector-effect="non-scaling-stroke" stroke-linejoin="round">167.5</text>
<text transform="translate(620.4,676.4) rotate(0)" font-family="'Liberation Sans', sans-serif" font-size="15.43" font-weight="normal" text-anchor="middle" fill="#222" textLength="16.5" lengthAdjust="spacingAndGlyphs" stroke="#222" stroke-width="0.85" vector-effect="non-scaling-stroke" stroke-linejoin="round">335</text>
<text transform="translate(879.8,452.5) rotate(-90)" font-family="'Liberation Sans', sans-serif" font-size="15.43" font-weight="normal" text-anchor="middle" fill="#222" textLength="25.6" lengthAdjust="spacingAndGlyphs" stroke="#222" stroke-width="0.85" vector-effect="non-scaling-stroke" stroke-linejoin="round">167.5</text>
<text transform="translate(897.1,507.5) rotate(-90)" font-family="'Liberation Sans', sans-serif" font-size="15.43" font-weight="normal" text-anchor="middle" fill="#222" textLength="41" lengthAdjust="spacingAndGlyphs" stroke="#222" stroke-width="0.85" vector-effect="non-scaling-stroke" stroke-linejoin="round">340±0.1</text>
<text transform="translate(468.1,655.1) rotate(-44.3)" font-family="'Liberation Sans', sans-serif" font-size="15" font-weight="normal" text-anchor="start" fill="#222" textLength="28.5" lengthAdjust="spacingAndGlyphs" stroke="#222" stroke-width="0.85" vector-effect="non-scaling-stroke" stroke-linejoin="round">4-Ø18</text>
<text transform="translate(719.2,379.8) rotate(-41.9)" font-family="'Liberation Sans', sans-serif" font-size="15" font-weight="normal" text-anchor="start" fill="#222" textLength="46" lengthAdjust="spacingAndGlyphs" stroke="#222" stroke-width="0.85" vector-effect="non-scaling-stroke" stroke-linejoin="round">2-Ø12H7(</text>
<text transform="translate(750.6,339.8) rotate(-41.9)" font-family="'Liberation Sans', sans-serif" font-size="9.14" font-weight="normal" text-anchor="start" fill="#222" textLength="23" lengthAdjust="spacingAndGlyphs" stroke="#222" stroke-width="0.7" vector-effect="non-scaling-stroke" stroke-linejoin="round">+0.018</text>
<text transform="translate(758.7,343.5) rotate(-41.9)" font-family="'Liberation Sans', sans-serif" font-size="8.86" font-weight="normal" text-anchor="start" fill="#222" textLength="3.6" lengthAdjust="spacingAndGlyphs" stroke="#222" stroke-width="0.7" vector-effect="non-scaling-stroke" stroke-linejoin="round">0</text>
<text transform="translate(773.5,329.4) rotate(-41.9)" font-family="'Liberation Sans', sans-serif" font-size="16.43" font-weight="normal" text-anchor="start" fill="#222" textLength="3.8" lengthAdjust="spacingAndGlyphs" stroke="#222" stroke-width="0.7" vector-effect="non-scaling-stroke" stroke-linejoin="round">)</text>
<path d="M1232.16,485.72 A105,105 0 0 0 1079.84,485.72" fill="none" stroke="#3a3a3a" stroke-width="1.15"/>
<path d="M1079.84,630.28 A105,105 0 0 0 1232.16,630.28" fill="none" stroke="#3a3a3a" stroke-width="1.15"/>
<path d="M1086,486 H1064 Q1050,486 1050,504 V612 Q1050,630.6 1064,630.6 H1086 Z" fill="none" stroke="#3a3a3a" stroke-width="1.26"/>
<line x1="1067" y1="486" x2="1067" y2="630.6" stroke="#3a3a3a" stroke-width="1.26"/>
<line x1="1084" y1="487" x2="1084" y2="630" stroke="#3a3a3a" stroke-width="1.03"/>
<line x1="1048.2" y1="542.5" x2="1048.2" y2="572" stroke="#333" stroke-width="1.61"/>
<path d="M1226,486 H1249 Q1263,486 1263,504 V612 Q1263,630.6 1249,630.6 H1226 Z" fill="none" stroke="#3a3a3a" stroke-width="1.26"/>
<line x1="1229" y1="487" x2="1229" y2="630" stroke="#3a3a3a" stroke-width="1.03"/>
<line x1="1245.6" y1="486" x2="1245.6" y2="630.6" stroke="#3a3a3a" stroke-width="1.26"/>
<line x1="1263.4" y1="544" x2="1263.4" y2="574.4" stroke="#2a2a2a" stroke-width="1.95"/>
<line x1="1089" y1="500" x2="1089" y2="616" stroke="#3a3a3a" stroke-width="1.15"/>
<line x1="1223" y1="500" x2="1223" y2="616" stroke="#3a3a3a" stroke-width="1.15"/>
<line x1="1087" y1="491.5" x2="1087" y2="625" stroke="#666" stroke-width="0.92"/>
<line x1="1225" y1="491.5" x2="1225" y2="625" stroke="#666" stroke-width="0.92"/>
<path d="M1087,492 H1104 L1107,496 Q1112,497.5 1120,493.5 Q1136,486.5 1156,486.5 Q1176,486.5 1192,493.5 Q1200,497.5 1205,496 L1208,492 H1225" fill="none" stroke="#3a3a3a" stroke-width="1.26"/>
<path d="M1089,500 L1105,496 M1207,496 L1223,500" fill="none" stroke="#3a3a3a" stroke-width="1.03"/>
<path d="M1110,496 Q1130,492 1156,497.5 Q1182,492 1202,496" fill="none" stroke="#666" stroke-width="0.92"/>
<path d="M1087,624 H1104 L1107,620 Q1112,618.5 1120,622.5 Q1136,629.5 1156,629.5 Q1176,629.5 1192,622.5 Q1200,618.5 1205,620 L1208,624 H1225" fill="none" stroke="#3a3a3a" stroke-width="1.26"/>
<path d="M1089,616 L1105,620 M1207,620 L1223,616" fill="none" stroke="#3a3a3a" stroke-width="1.03"/>
<path d="M1089,618 Q1120,630 1156,618 Q1192,630 1223,618" fill="none" stroke="#666" stroke-width="0.92"/>
<circle cx="1156" cy="558" r="57" fill="none" stroke="#333" stroke-width="1.72"/>
<circle cx="1156" cy="558" r="53" fill="none" stroke="#333" stroke-width="1.49"/>
<path d="M1183.98,505.38 A59.6,59.6 0 0 0 1128.02,505.38" fill="none" stroke="#2a2a2a" stroke-width="2.53" stroke-dasharray="14 1.5"/>
<circle cx="1156" cy="558" r="21.8" fill="none" stroke="#2a2a2a" stroke-width="2.07"/>
<circle cx="1156" cy="558" r="45.2" fill="none" stroke="#333" stroke-width="1.38" stroke-dasharray="11 3.5"/>
<circle cx="1192.29" cy="550.78" r="3.9" fill="#1e1e1e" stroke="none" stroke-width="0"/>
<circle cx="1192.29" cy="550.78" r="0.9" fill="#666" stroke="none" stroke-width="0"/>
<circle cx="1186.76" cy="537.44" r="3.9" fill="#1e1e1e" stroke="none" stroke-width="0"/>
<circle cx="1186.76" cy="537.44" r="0.9" fill="#666" stroke="none" stroke-width="0"/>
<circle cx="1176.56" cy="527.24" r="3.9" fill="#1e1e1e" stroke="none" stroke-width="0"/>
<circle cx="1176.56" cy="527.24" r="0.9" fill="#666" stroke="none" stroke-width="0"/>
<circle cx="1163.22" cy="521.71" r="3.9" fill="#1e1e1e" stroke="none" stroke-width="0"/>
<circle cx="1163.22" cy="521.71" r="0.9" fill="#666" stroke="none" stroke-width="0"/>
<circle cx="1148.78" cy="521.71" r="3.9" fill="#1e1e1e" stroke="none" stroke-width="0"/>
<circle cx="1148.78" cy="521.71" r="0.9" fill="#666" stroke="none" stroke-width="0"/>
<circle cx="1135.44" cy="527.24" r="3.9" fill="#1e1e1e" stroke="none" stroke-width="0"/>
<circle cx="1135.44" cy="527.24" r="0.9" fill="#666" stroke="none" stroke-width="0"/>
<circle cx="1125.24" cy="537.44" r="3.9" fill="#1e1e1e" stroke="none" stroke-width="0"/>
<circle cx="1125.24" cy="537.44" r="0.9" fill="#666" stroke="none" stroke-width="0"/>
<circle cx="1119.71" cy="550.78" r="3.9" fill="#1e1e1e" stroke="none" stroke-width="0"/>
<circle cx="1119.71" cy="550.78" r="0.9" fill="#666" stroke="none" stroke-width="0"/>
<circle cx="1119.71" cy="565.22" r="3.9" fill="#1e1e1e" stroke="none" stroke-width="0"/>
<circle cx="1119.71" cy="565.22" r="0.9" fill="#666" stroke="none" stroke-width="0"/>
<circle cx="1125.24" cy="578.56" r="3.9" fill="#1e1e1e" stroke="none" stroke-width="0"/>
<circle cx="1125.24" cy="578.56" r="0.9" fill="#666" stroke="none" stroke-width="0"/>
<circle cx="1135.44" cy="588.76" r="3.9" fill="#1e1e1e" stroke="none" stroke-width="0"/>
<circle cx="1135.44" cy="588.76" r="0.9" fill="#666" stroke="none" stroke-width="0"/>
<circle cx="1148.78" cy="594.29" r="3.9" fill="#1e1e1e" stroke="none" stroke-width="0"/>
<circle cx="1148.78" cy="594.29" r="0.9" fill="#666" stroke="none" stroke-width="0"/>
<circle cx="1163.22" cy="594.29" r="3.9" fill="#1e1e1e" stroke="none" stroke-width="0"/>
<circle cx="1163.22" cy="594.29" r="0.9" fill="#666" stroke="none" stroke-width="0"/>
<circle cx="1176.56" cy="588.76" r="3.9" fill="#1e1e1e" stroke="none" stroke-width="0"/>
<circle cx="1176.56" cy="588.76" r="0.9" fill="#666" stroke="none" stroke-width="0"/>
<circle cx="1186.76" cy="578.56" r="3.9" fill="#1e1e1e" stroke="none" stroke-width="0"/>
<circle cx="1186.76" cy="578.56" r="0.9" fill="#666" stroke="none" stroke-width="0"/>
<circle cx="1192.29" cy="565.22" r="3.9" fill="#1e1e1e" stroke="none" stroke-width="0"/>
<circle cx="1192.29" cy="565.22" r="0.9" fill="#666" stroke="none" stroke-width="0"/>
<circle cx="1197.39" cy="540.86" r="2.9" fill="#bbb" stroke="#444" stroke-width="1.03"/>
<line x1="1193.79" y1="540.86" x2="1200.99" y2="540.86" stroke="#444" stroke-width="0.69"/>
<line x1="1197.39" y1="537.26" x2="1197.39" y2="544.46" stroke="#444" stroke-width="0.69"/>
<circle cx="1173.14" cy="516.61" r="2.9" fill="#bbb" stroke="#444" stroke-width="1.03"/>
<line x1="1169.54" y1="516.61" x2="1176.74" y2="516.61" stroke="#444" stroke-width="0.69"/>
<line x1="1173.14" y1="513.01" x2="1173.14" y2="520.21" stroke="#444" stroke-width="0.69"/>
<circle cx="1138.86" cy="516.61" r="2.9" fill="#bbb" stroke="#444" stroke-width="1.03"/>
<line x1="1135.26" y1="516.61" x2="1142.46" y2="516.61" stroke="#444" stroke-width="0.69"/>
<line x1="1138.86" y1="513.01" x2="1138.86" y2="520.21" stroke="#444" stroke-width="0.69"/>
<circle cx="1114.61" cy="540.86" r="2.9" fill="#bbb" stroke="#444" stroke-width="1.03"/>
<line x1="1111.01" y1="540.86" x2="1118.21" y2="540.86" stroke="#444" stroke-width="0.69"/>
<line x1="1114.61" y1="537.26" x2="1114.61" y2="544.46" stroke="#444" stroke-width="0.69"/>
<circle cx="1114.61" cy="575.14" r="2.9" fill="#bbb" stroke="#444" stroke-width="1.03"/>
<line x1="1111.01" y1="575.14" x2="1118.21" y2="575.14" stroke="#444" stroke-width="0.69"/>
<line x1="1114.61" y1="571.54" x2="1114.61" y2="578.74" stroke="#444" stroke-width="0.69"/>
<circle cx="1138.86" cy="599.39" r="2.9" fill="#bbb" stroke="#444" stroke-width="1.03"/>
<line x1="1135.26" y1="599.39" x2="1142.46" y2="599.39" stroke="#444" stroke-width="0.69"/>
<line x1="1138.86" y1="595.79" x2="1138.86" y2="602.99" stroke="#444" stroke-width="0.69"/>
<circle cx="1173.14" cy="599.39" r="2.9" fill="#bbb" stroke="#444" stroke-width="1.03"/>
<line x1="1169.54" y1="599.39" x2="1176.74" y2="599.39" stroke="#444" stroke-width="0.69"/>
<line x1="1173.14" y1="595.79" x2="1173.14" y2="602.99" stroke="#444" stroke-width="0.69"/>
<circle cx="1197.39" cy="575.14" r="2.9" fill="#bbb" stroke="#444" stroke-width="1.03"/>
<line x1="1193.79" y1="575.14" x2="1200.99" y2="575.14" stroke="#444" stroke-width="0.69"/>
<line x1="1197.39" y1="571.54" x2="1197.39" y2="578.74" stroke="#444" stroke-width="0.69"/>
<circle cx="1156" cy="512.6" r="2.4" fill="#1e1e1e" stroke="none" stroke-width="0"/>
<line x1="1042" y1="558" x2="1270.6" y2="558" stroke="#3a3a3a" stroke-width="1.15" stroke-dasharray="46 4 6 4"/>
<line x1="1156" y1="445" x2="1156" y2="672" stroke="#3a3a3a" stroke-width="1.15" stroke-dasharray="46 4 6 4"/>
<path d="M1086,538 H1074 Q1070,538 1070,542 V575 Q1070,579 1074,579 H1086" fill="none" stroke="#3a3a3a" stroke-width="1.26"/>
<path d="M1086,541 H1076 Q1073,541 1073,544 V573 Q1073,576 1076,576 H1086" fill="none" stroke="#3a3a3a" stroke-width="1.03"/>
<rect x="1076" y="542.5" width="8" height="12.5" rx="0" fill="none" stroke="#3a3a3a" stroke-width="1.03"/>
<rect x="1076" y="562" width="8" height="12.5" rx="0" fill="none" stroke="#3a3a3a" stroke-width="1.03"/>
<circle cx="1080" cy="546.6" r="1.7" fill="none" stroke="#3a3a3a" stroke-width="1.03"/>
<circle cx="1080" cy="570" r="1.7" fill="none" stroke="#3a3a3a" stroke-width="1.03"/>
<line x1="1070" y1="557" x2="1086" y2="557" stroke="#3a3a3a" stroke-width="1.15"/>
<line x1="1070" y1="559.5" x2="1086" y2="559.5" stroke="#3a3a3a" stroke-width="1.15"/>
<path d="M1086,556.6 H1108 Q1110.5,558 1108,559.6 H1086" fill="none" stroke="#3a3a3a" stroke-width="1.15"/>
<rect x="1089" y="548" width="6.5" height="19" rx="0" fill="none" stroke="#555" stroke-width="1.03"/>
<line x1="1089" y1="553" x2="1095.5" y2="553" stroke="#555" stroke-width="0.92"/>
<line x1="1089" y1="563" x2="1095.5" y2="563" stroke="#555" stroke-width="0.92"/>
<path d="M1138.9,661 L1143,665.7 H1154.5 M1157.5,665.7 H1169.3 L1173.3,661" fill="none" stroke="#2a2a2a" stroke-width="2.3"/>
<path d="M1141,661.2 Q1156,659.8 1171.3,661.2" fill="none" stroke="#3a3a3a" stroke-width="1.15"/>
<line x1="1144.6" y1="661" x2="1144.6" y2="665.5" stroke="#3a3a3a" stroke-width="1.15"/>
<line x1="1167.6" y1="661" x2="1167.6" y2="665.5" stroke="#3a3a3a" stroke-width="1.15"/>
<line x1="1234.7" y1="535.2" x2="1242.4" y2="535.2" stroke="#1e1e1e" stroke-width="2.76"/>
<polygon points="1238.5,538.3 1242.25,543.8 1234.75,543.8" fill="#1e1e1e"/>
<line x1="1238.5" y1="543" x2="1238.5" y2="550" stroke="#1e1e1e" stroke-width="3.22"/>
<text transform="translate(1238.4,563.4) rotate(0)" font-family="'Liberation Sans', sans-serif" font-size="14.2" font-weight="bold" text-anchor="middle" fill="#1e1e1e" textLength="13.8" lengthAdjust="spacingAndGlyphs" stroke="#1e1e1e" stroke-width="1.0" stroke-linejoin="round">J5</text>
<line x1="1238.5" y1="566" x2="1238.5" y2="573" stroke="#1e1e1e" stroke-width="3.22"/>
<polygon points="1238.5,577.5 1234.75,572 1242.25,572" fill="#1e1e1e"/>
<line x1="1234.3" y1="583" x2="1242.7" y2="583" stroke="#1e1e1e" stroke-width="3.22"/>
<line x1="1238.5" y1="578.8" x2="1238.5" y2="587.2" stroke="#1e1e1e" stroke-width="3.22"/>
<line x1="1197.39" y1="540.86" x2="1285.34" y2="504.42" stroke="#333" stroke-width="1.15"/>
<line x1="1197.39" y1="575.14" x2="1285.34" y2="611.58" stroke="#333" stroke-width="1.15"/>
<path d="M1291.12,549.26 A135.4,135.4 0 0 0 1281.09,506.18" fill="none" stroke="#333" stroke-width="1.15"/>
<path d="M1281.09,609.82 A135.4,135.4 0 0 0 1291.04,567.92" fill="none" stroke="#333" stroke-width="1.15"/>
<polygon points="1281.09,506.18 1285.37,514.19 1283.12,515.03" fill="#333"/>
<polygon points="1281.09,609.82 1283.12,600.97 1285.37,601.81" fill="#333"/>
<text transform="translate(1290.9,567.1) rotate(0)" font-family="'Liberation Sans', sans-serif" font-size="24.43" font-weight="normal" text-anchor="middle" fill="#222" textLength="27.2" lengthAdjust="spacingAndGlyphs" stroke="#222" stroke-width="1.45" vector-effect="non-scaling-stroke" stroke-linejoin="round">45°</text>
<line x1="1040.3" y1="392.4" x2="1156" y2="512.6" stroke="#333" stroke-width="1.49"/>
<line x1="1264.2" y1="389.2" x2="1131.8" y2="595.7" stroke="#333" stroke-width="1.49"/>
<line x1="1299" y1="421.8" x2="1197.39" y2="540.86" stroke="#333" stroke-width="1.49"/>
<text transform="translate(1046.2,390.8) rotate(46)" font-family="'Liberation Sans', sans-serif" font-size="23.29" font-weight="normal" text-anchor="start" fill="#222" textLength="44" lengthAdjust="spacingAndGlyphs" stroke="#222" stroke-width="0.85" vector-effect="non-scaling-stroke" stroke-linejoin="round">Ø5H7</text>
<text transform="translate(1077.6,421.2) rotate(46)" font-family="'Liberation Sans', sans-serif" font-size="23.57" font-weight="normal" text-anchor="start" fill="#222" textLength="5" lengthAdjust="spacingAndGlyphs" stroke="#222" stroke-width="1" vector-effect="non-scaling-stroke" stroke-linejoin="round">(</text>
<text transform="translate(1092.6,413.8) rotate(45)" font-family="'Liberation Sans', sans-serif" font-size="13.71" font-weight="normal" text-anchor="start" fill="#222" textLength="37.5" lengthAdjust="spacingAndGlyphs" stroke="#222" stroke-width="0.95" vector-effect="non-scaling-stroke" stroke-linejoin="round">+0.012</text>
<text transform="translate(1087.4,429.8) rotate(46)" font-family="'Liberation Sans', sans-serif" font-size="13.29" font-weight="normal" text-anchor="start" fill="#222" textLength="5" lengthAdjust="spacingAndGlyphs" font-style="italic" stroke="#222" stroke-width="0.95" vector-effect="non-scaling-stroke" stroke-linejoin="round">0</text>
<text transform="translate(1111.4,456.4) rotate(46)" font-family="'Liberation Sans', sans-serif" font-size="23.57" font-weight="normal" text-anchor="start" fill="#222" textLength="5" lengthAdjust="spacingAndGlyphs" stroke="#222" stroke-width="1" vector-effect="non-scaling-stroke" stroke-linejoin="round">)</text>
<text transform="translate(1216.2,457.1) rotate(-57.5)" font-family="'Liberation Sans', sans-serif" font-size="23.29" font-weight="normal" text-anchor="start" fill="#222" textLength="82.5" lengthAdjust="spacingAndGlyphs" stroke="#222" stroke-width="0.85" vector-effect="non-scaling-stroke" stroke-linejoin="round">P.C.D Ø76</text>
<text transform="translate(1248.6,476.6) rotate(-50.6)" font-family="'Liberation Sans', sans-serif" font-size="23.29" font-weight="normal" text-anchor="start" fill="#222" textLength="41" lengthAdjust="spacingAndGlyphs" stroke="#222" stroke-width="1" vector-effect="non-scaling-stroke" stroke-linejoin="round">8-M6</text>
<text transform="translate(1261.5,429.6) rotate(-50.6)" font-family="'Liberation Sans', sans-serif" font-size="15.5" font-weight="normal" text-anchor="start" fill="#4c4c58" textLength="48.7" lengthAdjust="spacingAndGlyphs">evenly</text>
<text transform="translate(1276.2,441.6) rotate(-50.6)" font-family="'Liberation Sans', sans-serif" font-size="15.5" font-weight="normal" text-anchor="start" fill="#4c4c58" textLength="81" lengthAdjust="spacingAndGlyphs">distributed</text>
</g>
<text transform="translate(411.7,762.6) rotate(0)" font-family="'Liberation Sans', sans-serif" font-size="29" font-weight="normal" text-anchor="start" fill="#6a6a6a" textLength="175.3" lengthAdjust="spacingAndGlyphs">Installation</text>
<text transform="translate(593,762.6) rotate(0)" font-family="'Liberation Sans', sans-serif" font-size="29" font-weight="normal" text-anchor="start" fill="#6a6a6a" textLength="167.6" lengthAdjust="spacingAndGlyphs">Dimension</text>
<text transform="translate(765.8,762.6) rotate(0)" font-family="'Liberation Sans', sans-serif" font-size="29" font-weight="normal" text-anchor="start" fill="#6a6a6a" textLength="31.2" lengthAdjust="spacingAndGlyphs">of</text>
<text transform="translate(803.1,762.6) rotate(0)" font-family="'Liberation Sans', sans-serif" font-size="29" font-weight="normal" text-anchor="start" fill="#6a6a6a" textLength="72.1" lengthAdjust="spacingAndGlyphs">Base</text>
<text transform="translate(996.7,764.3) rotate(0)" font-family="'Liberation Sans', sans-serif" font-size="29" font-weight="normal" text-anchor="start" fill="#6a6a6a" textLength="105.5" lengthAdjust="spacingAndGlyphs">Flange</text>
<text transform="translate(1105.8,764.3) rotate(0)" font-family="'Liberation Sans', sans-serif" font-size="29" font-weight="normal" text-anchor="start" fill="#6a6a6a" textLength="183.4" lengthAdjust="spacingAndGlyphs">Dimensions</text>
</svg>
</body></html>
